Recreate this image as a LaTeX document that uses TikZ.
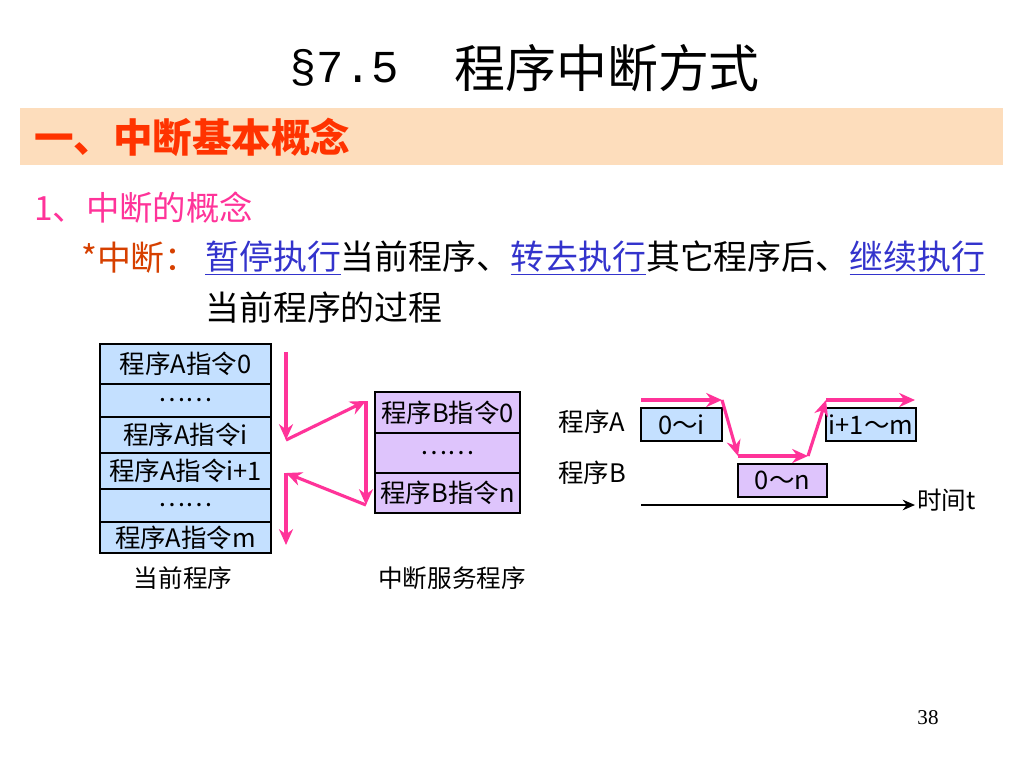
\documentclass[tikz,border=0pt]{standalone}
\usepackage{fontspec}
\setmainfont{Noto Sans CJK SC}
\newfontfamily\pagefont{Liberation Serif}
\newfontfamily\numfont{Liberation Mono}
\usetikzlibrary{arrows.meta}
\definecolor{bandpeach}{RGB}{253,221,188}
\definecolor{headred}{RGB}{255,51,0}
\definecolor{subpink}{RGB}{255,51,153}
\definecolor{starred}{RGB}{214,64,0}
\definecolor{linkblue}{RGB}{51,51,204}
\definecolor{cellblue}{RGB}{196,224,255}
\definecolor{celllilac}{RGB}{222,196,252}
\definecolor{jumppink}{RGB}{255,51,153}
\tikzset{
	cellA/.style={draw=black, line width=0.6pt, fill=cellblue, inner sep=0pt, minimum width=3.42cm, font=\fontsize{14.5}{16}\selectfont},
	cellB/.style={cellA, fill=celllilac, minimum width=2.9cm},
	slot/.style={cellA, minimum height=0.66cm},
	jump/.style={draw=jumppink, line width=1.8pt, -{Stealth[length=9pt,width=8pt]}},
	caption/.style={font=\fontsize{14}{16}\selectfont}
}

\begin{document}
\begin{tikzpicture}[x=0.02cm, y=-0.02cm]
		%%%%% START %%%%%
		\useasboundingbox (0, 0) rectangle (1024, 768);

		\node[anchor=west, font=\numfont\fontsize{26}{30}\selectfont] (secnum) at (283, 68) {§7.5};
		\node[anchor=west, font=\fontsize{29}{32}\selectfont] (title) at (448, 68) {程序中断方式};

		\draw[fill=bandpeach, draw=none] (20, 108) rectangle (1003, 165);
		\node[anchor=west, text=headred, font=\bfseries\fontsize{22.5}{25}\selectfont] (head) at (28, 137) {一、中断基本概念};
		\node[anchor=west, text=subpink, font=\fontsize{19}{22}\selectfont] (sub) at (28, 208) {1、中断的概念};

		\node[anchor=east, text=starred, font=\fontsize{19.3}{22}\selectfont] (star) at (205, 258) {*中断：};
		\node[anchor=west, inner sep=0pt, font=\fontsize{19.3}{22}\selectfont] (defn) at (205, 258) {\textcolor{linkblue}{\underline{暂停执行}}当前程序、\textcolor{linkblue}{\underline{转去执行}}其它程序后、\textcolor{linkblue}{\underline{继续执行}}};
		\node[anchor=west, inner sep=0pt, font=\fontsize{19.3}{22}\selectfont] (defn2) at (205, 308) {当前程序的过程};

		% current program
		\node[cellA, minimum height=0.8cm] (a0) at (185.5, 364) {程序A指令0};
		\node[cellA, minimum height=0.66cm] (a1) at (185.5, 400.5) {……};
		\node[cellA, minimum height=0.72cm] (ai) at (185.5, 435) {程序A指令i};
		\node[cellA, minimum height=0.72cm] (aj) at (185.5, 471) {程序A指令i+1};
		\node[cellA, minimum height=0.66cm] (a2) at (185.5, 505.5) {……};
		\node[cellA, minimum height=0.62cm] (am) at (185.5, 537.5) {程序A指令m};
		\node[caption] (curcap) at (183, 578) {当前程序};

		% service routine
		\node[cellB, minimum height=0.82cm] (b0) at (447.5, 412.5) {程序B指令0};
		\node[cellB, minimum height=0.8cm] (b1) at (447.5, 453) {……};
		\node[cellB, minimum height=0.8cm] (bn) at (447.5, 493) {程序B指令n};
		\node[caption] (isrcap) at (452, 578) {中断服务程序};

		\coordinate (p1) at (286, 352);
		\coordinate (p2) at (286, 440);
		\coordinate (p3) at (366, 401);
		\coordinate (p4) at (366, 505);
		\coordinate (p5) at (286, 473);
		\coordinate (p6) at (286, 545);
		\draw[jump] (p1) -- (p2);
		\draw[jump] (p2) -- (p3);
		\draw[jump] (p3) -- (p4);
		\draw[jump] (p4) -- (p5);
		\draw[jump] (p5) -- (p6);

		% time line
		\node[caption, font=\fontsize{14.5}{16}\selectfont] (progA) at (592, 422) {程序A};
		\node[caption, font=\fontsize{14.5}{16}\selectfont] (progB) at (592, 473) {程序B};
		\node[slot, minimum width=1.62cm] (ta) at (681.5, 424.5) {0～i};
		\node[slot, minimum width=1.8cm] (tc) at (871, 424.5) {i+1～m};
		\node[slot, fill=celllilac, minimum width=1.78cm] (tb) at (782.5, 480.5) {0～n};

		\coordinate (t1) at (641, 400);
		\coordinate (t2) at (722, 400);
		\coordinate (t3) at (738, 456);
		\coordinate (t4) at (808, 456);
		\coordinate (t5) at (826, 400);
		\coordinate (t6) at (915, 400);
		\draw[jump] (t1) -- (t2);
		\draw[jump] (t2) -- (t3);
		\draw[jump] (t3) -- (t4);
		\draw[jump] (t4) -- (t5);
		\draw[jump] (t5) -- (t6);

		\coordinate (ax0) at (641, 505);
		\node[anchor=west, inner sep=1pt, caption] (tlabel) at (915, 500) {时间t};
		\draw[line width=1.3pt, -{Stealth[length=7pt,width=6pt]}] (ax0) -- (tlabel.west |- ax0);

		\node[font=\pagefont\fontsize{12}{14}\selectfont] (pageno) at (928, 718) {38};
		%%%%% END %%%%%
\end{tikzpicture}
\end{document}
